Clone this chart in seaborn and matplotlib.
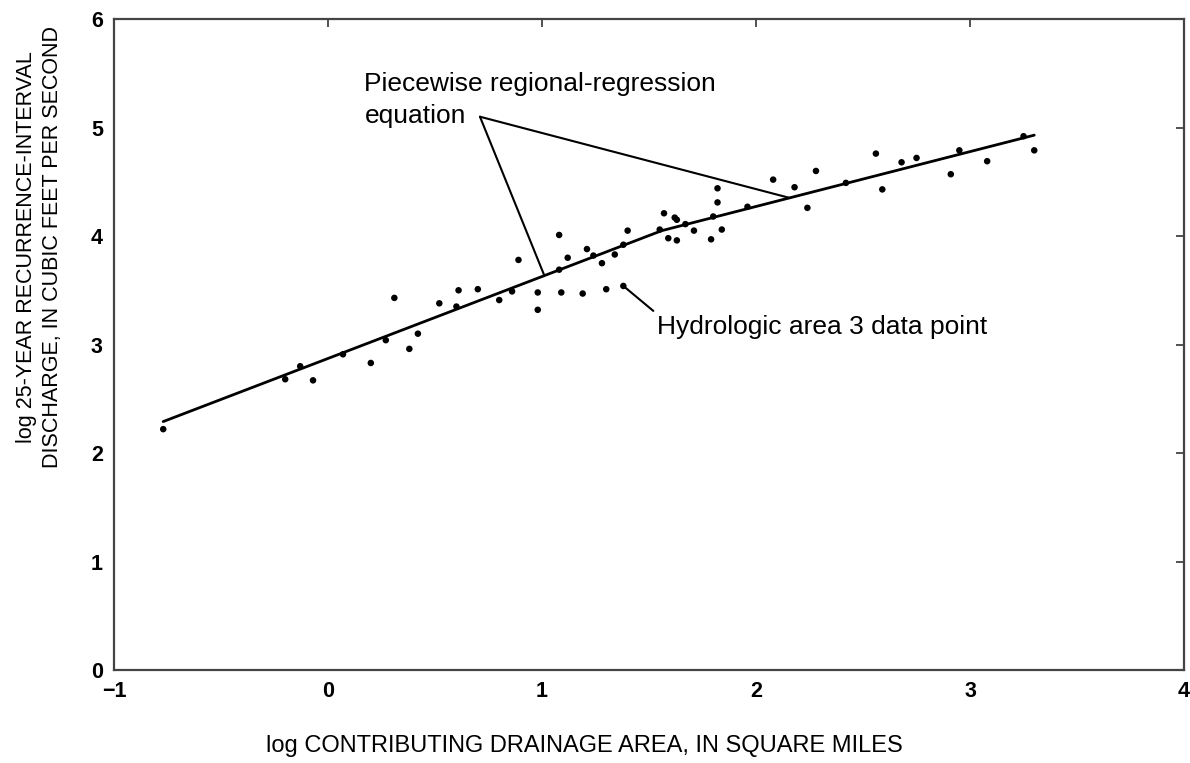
import matplotlib
matplotlib.use("Agg")
import matplotlib.pyplot as plt
import seaborn as sns
import pandas as pd

# observed data points (log drainage area, log Q25)
area = [-0.77, -0.20, -0.13, -0.07, 0.07, 0.20, 0.27, 0.31, 0.38, 0.42,
        0.52, 0.60, 0.61, 0.70, 0.80, 0.86, 0.89, 0.98, 0.98, 1.08,
        1.08, 1.09, 1.12, 1.19, 1.21, 1.24, 1.28, 1.30, 1.34, 1.38,
        1.40, 1.38, 1.55, 1.57, 1.59, 1.62, 1.63, 1.63, 1.67, 1.71,
        1.79, 1.80, 1.82, 1.82, 1.84, 1.96, 2.08, 2.18, 2.24, 2.28,
        2.42, 2.56, 2.59, 2.68, 2.75, 2.91, 2.95, 3.08, 3.25, 3.30]
discharge = [2.22, 2.68, 2.80, 2.67, 2.91, 2.83, 3.04, 3.43, 2.96, 3.10,
             3.38, 3.35, 3.50, 3.51, 3.41, 3.49, 3.78, 3.48, 3.32, 4.01,
             3.69, 3.48, 3.80, 3.47, 3.88, 3.82, 3.75, 3.51, 3.83, 3.92,
             4.05, 3.54, 4.06, 4.21, 3.98, 4.17, 4.15, 3.96, 4.11, 4.05,
             3.97, 4.18, 4.31, 4.44, 4.06, 4.27, 4.52, 4.45, 4.26, 4.60,
             4.49, 4.76, 4.43, 4.68, 4.72, 4.57, 4.79, 4.69, 4.92, 4.79]

# piecewise regression line vertices
fit_area = [-0.77, 1.56, 3.30]
fit_discharge = [2.29, 4.05, 4.93]

sns.set_theme(style="white")
plt.rcParams["font.family"] = ["Liberation Sans", "DejaVu Sans"]
plt.rcParams["text.color"] = "black"
plt.rcParams["axes.labelcolor"] = "black"

pts = pd.DataFrame({"area": area, "q": discharge})
fit = pd.DataFrame({"area": fit_area, "q": fit_discharge})

fig = plt.figure(figsize=(11.9, 7.63), dpi=100)
ax = fig.add_axes([0.0958, 0.1219, 0.8992, 0.8531])

sns.scatterplot(data=pts, x="area", y="q", ax=ax, color="black", s=22,
                marker="o", edgecolor="none", zorder=3)
sns.lineplot(data=fit, x="area", y="q", ax=ax, color="black", linewidth=2.0,
             sort=False, zorder=2)

ax.set_xlim(-1, 4)
ax.set_ylim(0, 6)
ax.set_xticks([-1, 0, 1, 2, 3, 4])
ax.set_yticks([0, 1, 2, 3, 4, 5, 6])
ax.tick_params(direction="in", length=6, width=1.2, colors="#333333",
               top=True, right=True, labelsize=15.5, pad=8)
for lab in ax.get_xticklabels() + ax.get_yticklabels():
    lab.set_fontweight("bold")
    lab.set_color("black")
for sp in ax.spines.values():
    sp.set_color("#444444")
    sp.set_linewidth(1.6)

ax.set_xlabel("log CONTRIBUTING DRAINAGE AREA, IN SQUARE MILES", fontsize=17)
ax.set_ylabel("log 25-YEAR RECURRENCE-INTERVAL\nDISCHARGE, IN CUBIC FEET PER SECOND",
              fontsize=15.5, linespacing=1.3)
ax.xaxis.set_label_coords(0.44, -0.10)
ax.yaxis.set_label_coords(-0.048, 0.65)

# annotations
ax.text(0.17, 5.0, "Piecewise regional-regression\nequation", fontsize=19,
        ha="left", va="bottom", linespacing=1.4)
ax.plot([0.71, 1.01], [5.10, 3.64], color="black", lw=1.5)
ax.plot([0.71, 2.16], [5.10, 4.35], color="black", lw=1.5)
ax.plot([1.38, 1.52], [3.54, 3.31], color="black", lw=1.5)
ax.text(1.537, 3.16, "Hydrologic area 3 data point", fontsize=19,
        ha="left", va="center")

fig.savefig("out.png", dpi=100)
